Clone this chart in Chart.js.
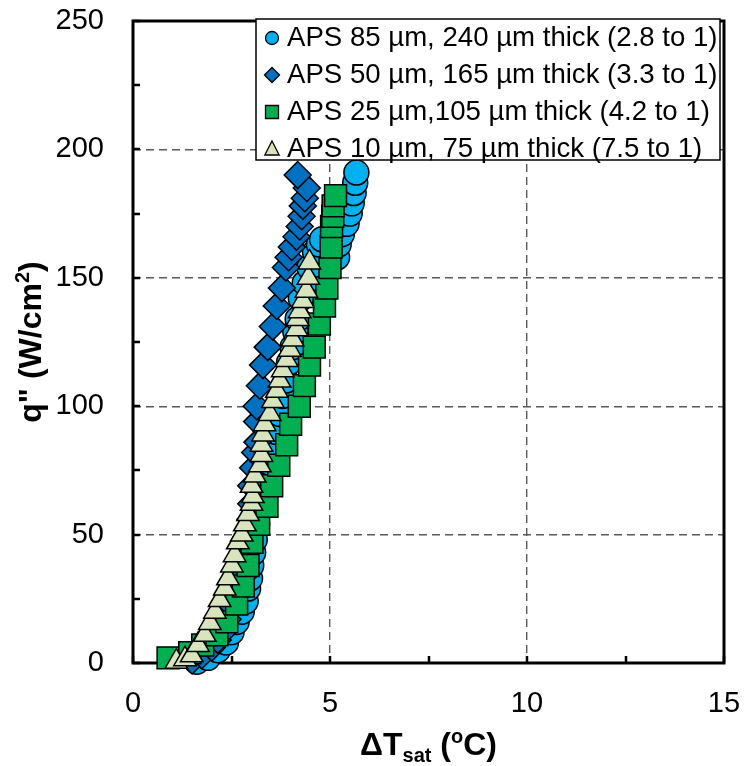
<!DOCTYPE html>
<html>
<head>
<meta charset="utf-8">
<script src="https://cdn.jsdelivr.net/npm/chart.js@4.4.1/dist/chart.umd.min.js"></script>
<style>
  html, body { margin: 0; padding: 0; background: #fff; }
  #boilingChart { display: block; }
</style>
</head>
<body>
<canvas id="boilingChart" width="747" height="766"></canvas>
<script>
// Values (x = superheat in C, y = heat flux in W/cm2)
const aps85X = [1.62, 1.9, 2.15, 2.36, 2.5, 2.63, 2.76, 2.86, 2.92, 2.97, 3.0, 3.05, 3.09, 3.15, 3.22, 3.3, 3.38, 3.46, 3.55, 3.63, 3.72, 3.8, 3.88, 3.96, 4.05, 4.12, 4.18, 4.26, 4.36, 4.48, 4.62, 4.72, 4.8, 5.18, 5.22, 5.3, 5.42, 5.5, 5.55, 5.6, 5.64, 5.67];
const aps85Y = [0.5, 2, 5, 8, 12, 16, 20, 24, 29, 33, 38, 43, 48, 54, 60, 66, 72, 78, 84, 90, 97, 104, 110, 117, 123, 129, 134, 142, 148, 154, 160, 163, 165, 158, 163, 167, 171, 175, 179, 183, 187, 191];

const aps50X = [1.5, 1.75, 2.0, 2.15, 2.28, 2.4, 2.53, 2.66, 2.75, 2.84, 2.9, 2.95, 2.98, 3.0, 3.0, 3.05, 3.1, 3.16, 3.15, 3.14, 3.22, 3.3, 3.42, 3.55, 3.65, 3.78, 3.88, 3.95, 4.03, 4.15, 4.23, 4.28, 4.31, 4.36, 4.41, 4.18];
const aps50Y = [1, 3, 6, 9, 12, 17, 22, 28, 33, 38, 44, 50, 56, 62, 69, 76, 82, 86, 94, 100, 108, 116, 123, 131, 139, 146, 154, 158, 162, 166, 170, 174, 178, 181, 185, 190];

const aps25X = [0.89, 1.44, 1.77, 2.13, 2.38, 2.63, 2.8, 2.92, 3.02, 3.19, 3.4, 3.52, 3.7, 3.9, 4.0, 4.22, 4.35, 4.48, 4.6, 4.73, 4.86, 4.92, 5.0, 5.03, 5.04, 5.07, 5.08, 5.14];
const aps25Y = [2, 4, 7, 11, 16, 23, 30, 38, 47, 54, 61, 69, 77, 85, 93, 100, 108, 116, 123, 132, 139, 146, 154, 162, 170, 174, 178, 182];

const aps10X = [1.1, 1.32, 1.49, 1.65, 1.82, 1.95, 2.08, 2.2, 2.33, 2.41, 2.51, 2.58, 2.66, 2.76, 2.84, 2.92, 3.01, 3.04, 3.01, 3.09, 3.22, 3.26, 3.26, 3.3, 3.34, 3.47, 3.55, 3.65, 3.72, 3.8, 3.9, 3.98, 4.05, 4.15, 4.18, 4.23, 4.31, 4.4, 4.45, 4.48];
const aps10Y = [0.5, 1.5, 3, 7, 11, 15.6, 20, 24.5, 29, 33, 38, 42, 47, 50, 54, 58, 62, 65, 69, 73, 77, 81, 85, 89, 93, 97, 102, 106, 110, 114, 118, 122, 126, 130, 134, 137, 141, 145, 150, 156];

const seriesLabels = [
    'APS 85 µm, 240 µm thick (2.8 to 1)',
    'APS 50 µm, 165 µm thick (3.3 to 1)',
    'APS 25 µm,105 µm thick (4.2 to 1)',
    'APS 10 µm, 75 µm thick (7.5 to 1)'
];

const xMin = 0, xMax = 15, xStep = 5, xMinorStep = 2.5;
const yMin = 0, yMax = 250, yStep = 50, yMinorStep = 25;

const FONT = "'Liberation Sans', Arial, sans-serif";

function toPoints(xs, ys) {
    return xs.map((x, i) => ({ x: x, y: ys[i] }));
}

// marker styles per series (Excel-like)
const markerStyles = [
    { shape: 'circle', fill: '#00B0F0', radius: 12.5 },
    { shape: 'rectRot', fill: '#0070C0', radius: 13.5 },
    { shape: 'rect', fill: '#00B050', radius: 15.5 },
    { shape: 'triangle', fill: '#D8E4BC', radius: 13 }
];
const seriesData = [
    toPoints(aps85X, aps85Y),
    toPoints(aps50X, aps50Y),
    toPoints(aps25X, aps25Y),
    toPoints(aps10X, aps10Y)
];

// **Frame and inward tick marks (drawn under the markers)**
const frameTicks = {
    id: 'frameTicks',
    beforeDatasetsDraw(chart) {
        const { ctx, chartArea: a, scales: { x, y } } = chart;
        ctx.save();
        ctx.strokeStyle = '#000';
        ctx.lineWidth = 2.5;
        ctx.beginPath();
        for (let v = xMin; v <= xMax; v += xMinorStep) {
            const px = Math.round(x.getPixelForValue(v));
            ctx.moveTo(px, a.bottom);
            ctx.lineTo(px, a.bottom - 7);
        }
        for (let v = yMin; v <= yMax; v += yMinorStep) {
            const py = Math.round(y.getPixelForValue(v));
            ctx.moveTo(a.left, py);
            ctx.lineTo(a.left + 7, py);
        }
        ctx.stroke();
        ctx.lineWidth = 3;
        ctx.strokeRect(a.left, a.top, a.right - a.left, a.bottom - a.top);
        ctx.restore();
    }
};

function drawMarker(ctx, shape, cx, cy, r) {
    ctx.beginPath();
    if (shape === 'circle') {
        ctx.arc(cx, cy, r, 0, Math.PI * 2);
    } else if (shape === 'rectRot') {
        ctx.moveTo(cx - r, cy);
        ctx.lineTo(cx, cy - r);
        ctx.lineTo(cx + r, cy);
        ctx.lineTo(cx, cy + r);
        ctx.closePath();
    } else if (shape === 'rect') {
        ctx.rect(cx - r, cy - r, 2 * r, 2 * r);
    } else {
        ctx.moveTo(cx, cy - r);
        ctx.lineTo(cx + r * 0.9, cy + r * 0.75);
        ctx.lineTo(cx - r * 0.9, cy + r * 0.75);
        ctx.closePath();
    }
    ctx.fill();
    ctx.stroke();
}

// text pieces with sub/superscripts
function drawRich(ctx, parts, x, y) {
    let total = 0;
    parts.forEach(p => {
        ctx.font = 'bold ' + p.size + 'px ' + FONT;
        p.w = ctx.measureText(p.t).width;
        total += p.w;
    });
    let cx = x - total / 2;
    parts.forEach(p => {
        ctx.font = 'bold ' + p.size + 'px ' + FONT;
        ctx.fillText(p.t, cx, y + (p.dy || 0));
        cx += p.w;
    });
}

// **Legend box and axis titles**
const overlay = {
    id: 'overlay',
    afterDraw(chart) {
        const { ctx, chartArea: a } = chart;
        ctx.save();

        // legend
        const box = { x: 256, y: 19, w: 464, h: 141 };
        ctx.fillStyle = '#fff';
        ctx.fillRect(box.x, box.y, box.w, box.h);
        ctx.strokeStyle = '#000';
        ctx.lineWidth = 1.5;
        ctx.strokeRect(box.x, box.y, box.w, box.h);
        const rowY = [37, 74, 111, 148];
        const legendR = [6.5, 7.5, 6.5, 8];
        ctx.font = '27.6px ' + FONT;
        ctx.textBaseline = 'middle';
        ctx.textAlign = 'left';
        seriesLabels.forEach((label, i) => {
            ctx.fillStyle = markerStyles[i].fill;
            ctx.strokeStyle = '#000';
            ctx.lineWidth = 1.3;
            drawMarker(ctx, markerStyles[i].shape, 272, rowY[i] + 1, legendR[i]);
            ctx.fillStyle = '#000';
            ctx.fillText(label, 287, rowY[i] + 1);
        });

        // axis titles
        ctx.fillStyle = '#000';
        ctx.textBaseline = 'alphabetic';
        ctx.textAlign = 'left';
        drawRich(ctx, [
            { t: '\u0394T', size: 32 },
            { t: 'sat', size: 20, dy: 7 },
            { t: ' (', size: 32 },
            { t: 'o', size: 20, dy: -12 },
            { t: 'C)', size: 32 }
        ], (a.left + a.right) / 2, 755);

        ctx.translate(41, (a.top + a.bottom) / 2);
        ctx.rotate(-Math.PI / 2);
        drawRich(ctx, [
            { t: 'q" (W/cm', size: 32 },
            { t: '2', size: 20, dy: -12 },
            { t: ')', size: 32 }
        ], 0, 0);
        ctx.restore();
    }
};

const datasets = seriesData.map((data, i) => ({
    label: seriesLabels[i],
    data: data,
    showLine: false,
    pointStyle: markerStyles[i].shape,
    pointRadius: markerStyles[i].radius,
    pointHoverRadius: markerStyles[i].radius,
    pointBackgroundColor: markerStyles[i].fill,
    pointBorderColor: '#000',
    pointBorderWidth: 1.5,
    clip: false,
    order: 3 - i   // later series drawn on top, as in the original
}));

const tickFont = { family: FONT, size: 29 };

new Chart(document.getElementById('boilingChart').getContext('2d'), {
    type: 'scatter',
    data: { datasets: datasets },
    options: {
        responsive: false,
        animation: false,
        devicePixelRatio: 1,
        layout: { padding: { top: 21, right: 23, left: 0, bottom: 0 } },
        plugins: {
            legend: { display: false },
            tooltip: { enabled: false }
        },
        scales: {
            x: {
                type: 'linear',
                min: xMin,
                max: xMax,
                ticks: { stepSize: xStep, color: '#000', font: tickFont, padding: 24, maxRotation: 0 },
                grid: { color: '#595959', lineWidth: 1.4, drawTicks: false, tickLength: 0 },
                border: { display: false, dash: [8, 5] },
                afterFit(scale) {
                    scale.height = 103;
                    scale.paddingLeft = 0;
                    scale.paddingRight = 0;
                }
            },
            y: {
                type: 'linear',
                min: yMin,
                max: yMax,
                ticks: { stepSize: yStep, color: '#000', font: tickFont, padding: 29 },
                grid: { color: '#595959', lineWidth: 1.4, drawTicks: false, tickLength: 0 },
                border: { display: false, dash: [8, 5] },
                afterFit(scale) {
                    scale.width = 133;
                    scale.paddingTop = 0;
                    scale.paddingBottom = 0;
                }
            }
        }
    },
    plugins: [frameTicks, overlay]
});
</script>
</body>
</html>
